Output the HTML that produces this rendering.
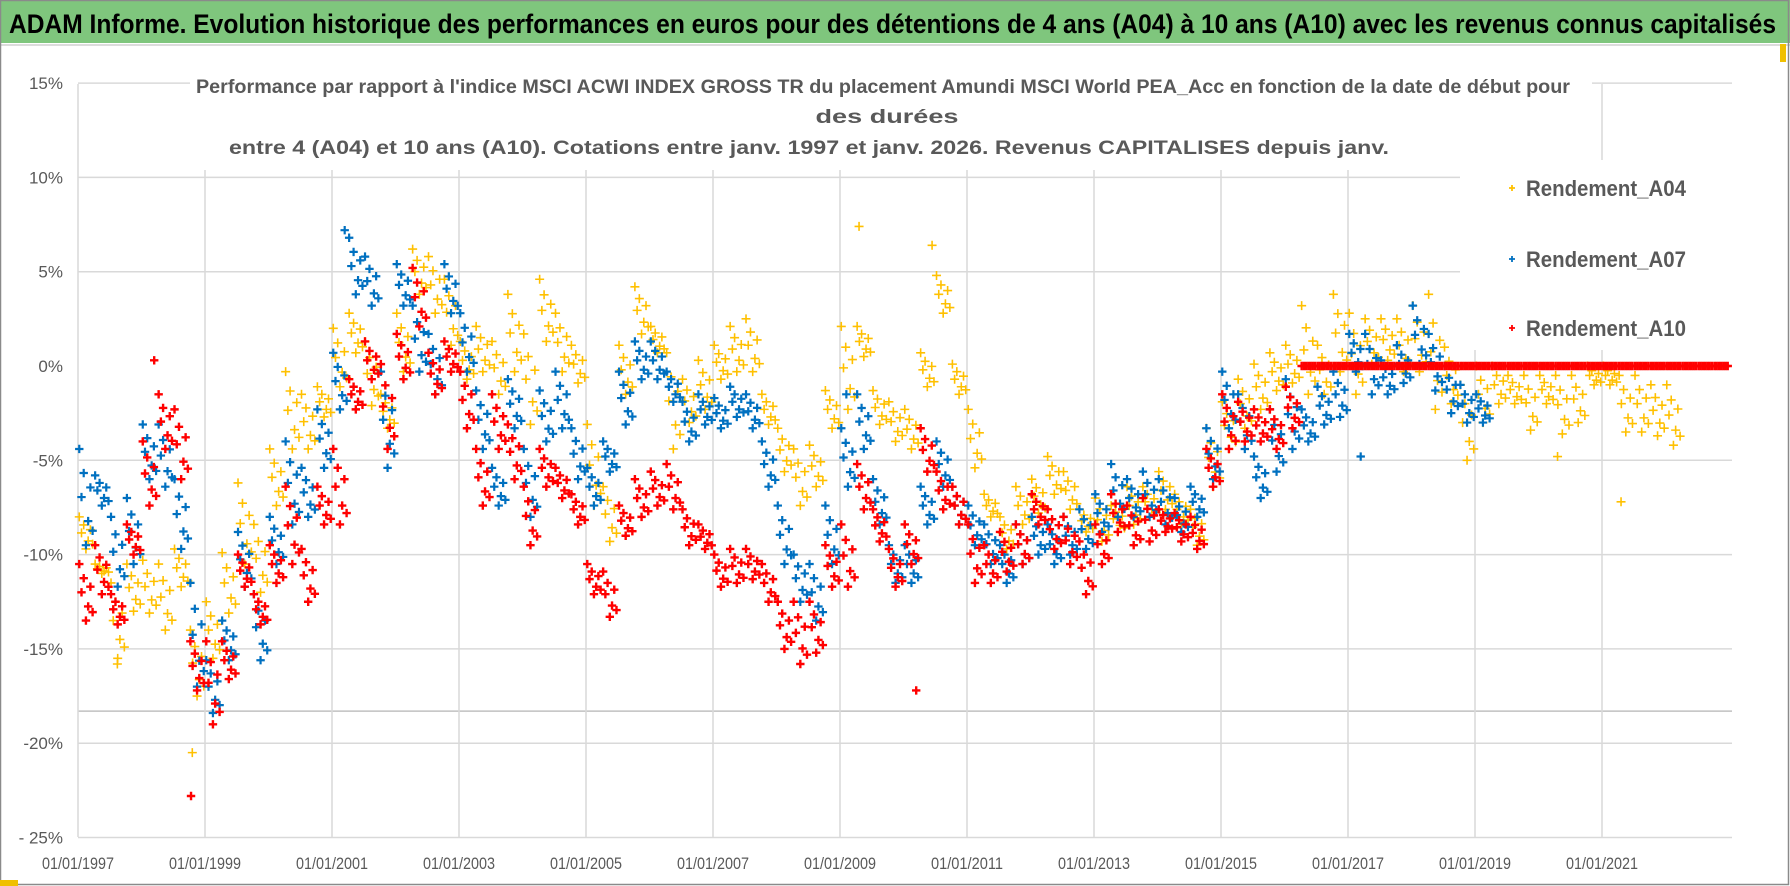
<!DOCTYPE html>
<html><head><meta charset="utf-8"><style>
html,body{margin:0;padding:0;background:#fff;}
svg{display:block;}
</style></head><body>
<svg id="chart" width="1790" height="886" viewBox="0 0 1790 886" xmlns="http://www.w3.org/2000/svg" font-family="'Liberation Sans', sans-serif">
<rect x="0" y="0" width="1790" height="886" fill="#fff"/>
<rect x="0" y="0" width="1790" height="43" fill="#7fc67d"/>
<rect x="0" y="44" width="1790" height="2" fill="#dcdcdc"/>
<text x="9" y="33" font-size="27" font-weight="bold" fill="#000" textLength="1767" lengthAdjust="spacingAndGlyphs">ADAM Informe. Evolution historique des performances en euros pour des détentions de 4 ans (A04) à 10 ans (A10) avec les revenus connus capitalisés</text>
<g id="grid"></g>
<g id="points"></g>
<rect x="190" y="74" width="1402" height="96" fill="#fff"/>
<text x="196" y="93" font-size="19" font-weight="bold" fill="#595959" textLength="1374" lengthAdjust="spacingAndGlyphs">Performance par rapport à l'indice MSCI ACWI INDEX GROSS TR  du placement Amundi MSCI World PEA_Acc en fonction de la date de début pour</text>
<text x="887" y="123" font-size="19" font-weight="bold" fill="#595959" text-anchor="middle" textLength="143" lengthAdjust="spacingAndGlyphs">des durées</text>
<text x="229" y="154" font-size="19" font-weight="bold" fill="#595959" textLength="1160" lengthAdjust="spacingAndGlyphs">entre 4 (A04) et 10 ans (A10).  Cotations entre janv. 1997 et janv. 2026. Revenus CAPITALISES depuis janv.</text>
<rect x="1460" y="160" width="272" height="190" fill="#fff"/>
<g id="legend"></g>
<g id="axes"></g>
<rect x="0.5" y="0.5" width="1788" height="884" fill="none" stroke="#8a8a8a" stroke-width="1.5"/>
<rect x="0" y="880" width="18" height="6" fill="#f0c000"/>
<rect x="1780" y="44" width="6" height="18" fill="#f0c000"/>
</svg>
<script>
// ---- data (quarterly start dates from 1997.0, upper / lower envelope of each cloud, in %) ----
const startYear = 1997;
const stepYears = 0.25;
const a04Hi = [-8,-10.5,-11.5,-10.5,-10.3,-10.5,-9.7,-14,-12.5,-9.9,-6.2,-8.4,-4.4,-0.3,-1.5,-1.1,2,2.8,1.3,-1.5,2.8,6.2,5.8,4.6,1.3,2.1,1.3,3.8,1.7,4.6,2.8,1.1,-3.1,-6.4,1.1,4.2,2.1,0.7,-0.7,0.3,1.1,2.1,2.5,-1.5,-3.3,-4.4,-4.2,-1.3,2.1,2.1,-1.3,-1.9,-2.3,0.7,4.8,0.1,-2.3,-6.8,-8,-6.4,-6,-4.8,-5.6,-7.6,-7,-7.4,-6.4,-6.4,-5.6,-6.8,-7.6,-3.3,-1.9,-0.7,0.1,0.7,1.1,3.2,1.1,3.8,2.8,2.5,2.5,2.5,3.2,3.8,1,-1,0,0,-0.5,-0.5,-0.5,-0.5,-0.5,0,0,-0.5,-0.5,-1,-1];
const a04Lo = [-9.7,-11,-15.5,-13,-13.1,-14,-11.7,-17.5,-15.5,-13.1,-10.5,-12,-7.4,-4.4,-4.4,-2.7,-1.1,0.7,-2.1,-3.3,-0.3,3.8,2.8,1.1,-0.7,-0.3,-1.5,-0.3,-3.1,1.3,-0.3,-0.9,-7.4,-9.3,-1.5,1.7,0.7,-4.4,-3,-2.3,-0.7,-0.3,-0.3,-3.1,-5.6,-7.4,-6.4,-3.3,-2.3,0.5,-3.1,-4,-4.4,-1.1,2.8,-1.5,-5.4,-8,-9.7,-8.4,-7.8,-6.8,-7.6,-8.8,-9.3,-8.8,-8.4,-8,-7.6,-8.4,-9.5,-6.4,-4.4,-3.3,-2.3,-1.3,-0.9,-1.5,-1.5,-0.3,-1.5,0.1,0.3,-0.3,-0.3,-2.3,-2,-5,-3,-2,-2,-3.4,-2,-3.6,-3,-1,-1,-3.5,-3.5,-3.7,-4.2];
const a07Hi = [-4.4,-5.8,-8,-7,-3.1,-3.1,-6,-11.5,-15.6,-13.5,-8.8,-12.1,-8,-4,-5.4,-2.3,0.7,6.8,5.8,-0.3,5.4,3.2,1.7,5.4,2.8,-1.3,-5.4,-0.7,-4.4,-1.3,-0.3,-3.3,-5.4,-4,-0.3,1.3,1.3,-0.3,-1.9,-1.5,-1.7,-1.1,-1.5,-4,-7.4,-10,-10.5,-7.4,-3.3,-1.5,-6,-9.5,-9.5,-6.4,-4,-6.4,-7.4,-8.4,-9.5,-8.4,-8,-8.4,-8,-7.6,-6.8,-5.2,-6,-5.6,-6,-7,-6.4,-3.3,-0.3,-1.5,-4.8,-2.3,-0.7,-2.3,-1.1,-0.3,1.7,1.7,0.3,1.1,3.2,1.7,0,-1,-1.5];
const a07Lo = [-9.5,-7.4,-11.7,-10.5,-6,-6.4,-9.7,-17,-18.4,-15.6,-11.7,-15.6,-10.5,-8.4,-8,-5.4,-2.3,3.8,3.2,-5.4,3.2,-0.3,-1.5,2.8,-0.3,-4.4,-7.4,-3.3,-8,-4,-3.3,-6,-7.4,-5.6,-3.1,-0.7,-0.7,-1.9,-4,-3.1,-3.3,-2.7,-3.3,-6.4,-10.5,-12.5,-13.5,-10.5,-6.4,-4.4,-8.4,-11.5,-11.5,-8.4,-6.4,-8.4,-9.5,-10.5,-11.5,-10.5,-10,-10.5,-10,-9.7,-8.8,-8,-8,-8,-8.4,-8.8,-8,-6,-3.3,-4.4,-7,-5.6,-4.4,-4,-3.1,-2.7,-0.3,-1.5,-1.5,-0.9,0.1,-1.3,-2.5,-3,-3];
const a10Hi = [-10.5,-9.5,-12.1,-8.4,-4,-1.5,-2.3,-14.6,-14.6,-14.6,-10,-12.1,-9.5,-6.4,-9.7,-6.4,-4.4,-0.7,1.3,0.1,1.7,5.2,0.7,1.3,-0.3,-4.4,-1.5,-3.1,-6.4,-4.4,-5.4,-6.8,-10.5,-10.9,-7.4,-6,-5.6,-5.2,-7.6,-8.4,-10,-9.7,-9.7,-10.5,-12.5,-12.5,-12.5,-9.5,-8.4,-5.2,-7.6,-9.7,-8.4,-3.3,-5.6,-6.4,-8.4,-9.5,-8.8,-8.4,-6.8,-7.6,-8,-9.3,-8.4,-6.8,-7.4,-7,-7.6,-7.8,-8,-4.4,-1.5,-1.9,-2.3,-2.3,-1.1,0,0,0,0,0,0,0,0,0,0,0,0,0,0,0,0,0,0,0,0,0,0,0,0,0,0,0];
const a10Lo = [-13.5,-12.1,-13.7,-10,-7.4,-4.4,-6,-17.2,-19,-16.6,-11.7,-13.7,-11.5,-10.5,-12.5,-8.4,-8.4,-2.3,-0.7,-4.4,-0.7,2.1,-1.5,-0.3,-3.3,-7.4,-4.4,-6,-9.5,-6.4,-7,-8.4,-12.1,-13.3,-9,-8,-7.4,-7.6,-9.5,-9.7,-11.7,-11.5,-11.3,-12.5,-15,-15.8,-15.2,-11.7,-11.7,-7.6,-9.3,-11.7,-10.5,-5.6,-7.6,-8.4,-11.5,-11.5,-10.9,-10.5,-8.4,-9.7,-10.5,-12.1,-10.5,-8.8,-9.5,-9.3,-8.8,-9.3,-9.7,-6.4,-4.4,-4,-4,-4.4,-3.3,0,0,0,0,0,0,0,0,0,0,0,0,0,0,0,0,0,0,0,0,0,0,0,0,0,0,0];
const a04OutlierDates = [1997.62, 1998.8, 2009.3, 2010.45, 2021.3, 2020.3];
const a04OutlierVals = [-15.8, -20.5, 7.4, 6.4, -7.2, -4.8];
const a07OutlierDates = [2001.2, 2009.1, 2017.2];
const a07OutlierVals = [7.2, -1.5, -4.8];
const a10OutlierDates = [1998.78, 2010.2, 1998.2];
const a10OutlierVals = [-22.8, -17.2, 0.3];
const yTickVals = [15, 10, 5, 0, -5, -10, -15, -20, -25];
const yTickLabels = ["15%", "10%", "5%", "0%", "-5%", "-10%", "-15%", "-20%", "- 25%"];
const xTickYears = [1997, 1999, 2001, 2003, 2005, 2007, 2009, 2011, 2013, 2015, 2017, 2019, 2021];
const xTickLabels = ["01/01/1997","01/01/1999","01/01/2001","01/01/2003","01/01/2005","01/01/2007","01/01/2009","01/01/2011","01/01/2013","01/01/2015","01/01/2017","01/01/2019","01/01/2021"];
const legendLabels = ["Rendement_A04", "Rendement_A07", "Rendement_A10"];

// ---- axis functions ----
const NS = "http://www.w3.org/2000/svg";
const plotLeft = 78, plotRight = 1732, plotTop = 84, plotBottom = 837;
function xScale(year) { return plotLeft + (year - 1997) * 63.5; }
function yScale(v) { return 366 - v * 18.86; }

const grid = document.getElementById('grid');
function line(parent, x1, y1, x2, y2, color, w) {
  const l = document.createElementNS(NS, 'line');
  l.setAttribute('x1', x1); l.setAttribute('y1', y1);
  l.setAttribute('x2', x2); l.setAttribute('y2', y2);
  l.setAttribute('stroke', color); l.setAttribute('stroke-width', w);
  parent.appendChild(l);
  return l;
}
yTickVals.forEach(function (v) {
  if (v === 0) return;
  const l = line(grid, plotLeft, yScale(v), plotRight, yScale(v), '#d9d9d9', 1.5);
  
  
});
const extra = line(grid, plotLeft, yScale(-18.3), plotRight, yScale(-18.3), '#c0c0c0', 1.5);


xTickYears.forEach(function (yr) {
  const l = line(grid, xScale(yr), plotTop, xScale(yr), plotBottom, '#d9d9d9', 1.5);
  
  
});

const axes = document.getElementById('axes');
yTickVals.forEach(function (v, i) {
  const t = document.createElementNS(NS, 'text');
  
  
  t.setAttribute('x', 63); t.setAttribute('y', yScale(v) + 6);
  t.setAttribute('text-anchor', 'end'); t.setAttribute('font-size', '17');
  t.setAttribute('fill', '#595959');
  t.textContent = yTickLabels[i];
  axes.appendChild(t);
});
xTickYears.forEach(function (yr, i) {
  const t = document.createElementNS(NS, 'text');
  
  
  t.setAttribute('x', xScale(yr)); t.setAttribute('y', 869);
  t.setAttribute('text-anchor', 'middle'); t.setAttribute('font-size', '17');
  t.setAttribute('fill', '#595959');
  t.setAttribute('textLength', '72'); t.setAttribute('lengthAdjust', 'spacingAndGlyphs');
  t.textContent = xTickLabels[i];
  axes.appendChild(t);
});

// ---- markers ----
const pts = document.getElementById('points');
function plus(parent, cx, cy, color, arm, w) {
  const p = document.createElementNS(NS, 'path');
  p.setAttribute('d', 'M' + (cx - arm) + ' ' + cy + 'H' + (cx + arm) + 'M' + cx + ' ' + (cy - arm) + 'V' + (cy + arm));
  p.setAttribute('stroke', color); p.setAttribute('stroke-width', w);
  parent.appendChild(p);
}
const bandFrac = [0, 0.5, 0.25, 1, 0.75, 0.4, 0.85];
const bandOff = [0.02, 0.055, 0.09, 0.125, 0.16, 0.195, 0.23];
function drawSeries(name, hi, lo, oDates, oVals, color, arm, w) {
  const g = document.createElementNS(NS, 'g');
  
  
  pts.appendChild(g);
  for (let i = 0; i < hi.length; i++) {
    const yr = startYear + i * stepYears;
    for (let k = 0; k < bandFrac.length; k++) {
      const v = hi[i] + (lo[i] - hi[i]) * bandFrac[k];
      plus(g, xScale(yr + bandOff[k]), yScale(v), color, arm, w);
    }
  }
  for (let j = 0; j < oDates.length; j++) {
    plus(g, xScale(oDates[j]), yScale(oVals[j]), color, arm, w);
  }
}
drawSeries('series-a04', a04Hi, a04Lo, a04OutlierDates, a04OutlierVals, '#ffc000', 4.5, 1.6);
drawSeries('series-a07', a07Hi, a07Lo, a07OutlierDates, a07OutlierVals, '#0070c0', 4.2, 2.2);
drawSeries('series-a10', a10Hi, a10Lo, a10OutlierDates, a10OutlierVals, '#ff0000', 4.2, 2.4);

// ---- legend ----
const legend = document.getElementById('legend');
const legendColors = ['#ffc000', '#0070c0', '#ff0000'];
const legendY = [188, 259, 328];
legendLabels.forEach(function (lab, i) {
  const g = document.createElementNS(NS, 'g');
  
  
  legend.appendChild(g);
  plus(g, 1512, legendY[i], legendColors[i], 3, 1.8);
  const t = document.createElementNS(NS, 'text');
  
  
  t.setAttribute('x', 1526); t.setAttribute('y', legendY[i] + 8);
  t.setAttribute('font-size', '22'); t.setAttribute('font-weight', 'bold');
  t.setAttribute('fill', '#595959');
  t.setAttribute('textLength', '160'); t.setAttribute('lengthAdjust', 'spacingAndGlyphs');
  t.textContent = lab;
  g.appendChild(t);
});
</script>
</body></html>
